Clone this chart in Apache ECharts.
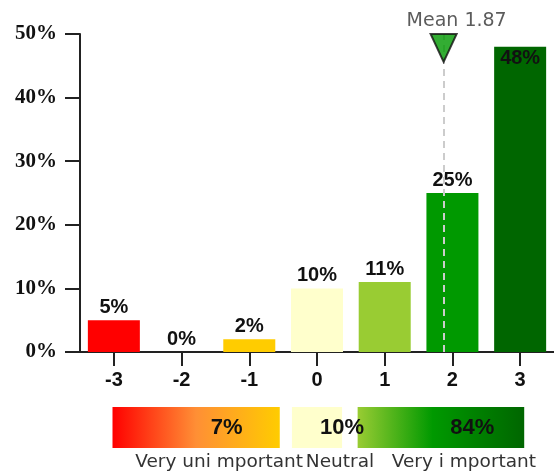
<!DOCTYPE html>
<html>
<head>
<meta charset="utf-8">
<script src="https://cdn.jsdelivr.net/npm/echarts@6/dist/echarts.min.js"></script>
<style>
html,body{margin:0;padding:0;background:#fff;}
#chart{width:554px;height:475px;}
</style>
</head>
<body>
<div id="chart"></div>
<script>
// ---- data ----
var categories = ['-3', '-2', '-1', '0', '1', '2', '3'];
var percentages = [5, 0, 2, 10, 11, 25, 48];
var yTicks = [0, 10, 20, 30, 40, 50];
var meanValue = 1.87;
var summaryGroups = [[-3, -1], [0, 0], [1, 3]];
var summaryValues = [7, 10, 84];
var summaryCaptions = ['Very uni mportant', 'Neutral', 'Very i mportant'];

// ---- styles ----
var barColors = ['#ff0000', '#ff0000', '#ffcc00', '#ffffcc', '#99cc33', '#009900', '#006600'];
var summaryFills = [
  [['#ff0000', 0], ['#ff8f35', 0.5], ['#ffcc00', 1]],
  [['#ffffcc', 0], ['#ffffcc', 1]],
  [['#99cc33', 0], ['#009900', 0.45], ['#006600', 1]]
];
var padL = [0.02, 0.37, 0.40];
var padR = [0.45, 0.37, 0.06];
var labelShiftPx = [-53, 0, -52];

var chart = echarts.init(document.getElementById('chart'), null, {renderer: 'canvas'});

var barData = percentages.map(function (v, i) {
  var item = {value: v, itemStyle: {color: barColors[i]}};
  if (i === percentages.length - 1) {
    item.label = {position: 'insideTop', distance: 2};
  }
  return item;
});

var summaryData = summaryGroups.map(function (g, i) {
  return [g[0] - padL[i], g[1] + padR[i], summaryValues[i], i];
});

var option = {
  animation: false,
  backgroundColor: '#ffffff',
  grid: [
    {left: 80, top: 34, width: 480, height: 318},
    {left: 80, top: 407, width: 480, height: 41}
  ],
  xAxis: [
    {
      type: 'category', gridIndex: 0, data: categories, boundaryGap: true,
      axisLine: {show: true, onZero: false, lineStyle: {color: '#222', width: 2}},
      axisTick: {show: true, alignWithLabel: true, length: 14, lineStyle: {color: '#222', width: 2}},
      axisLabel: {color: '#111', fontFamily: '"Liberation Sans", Arial, sans-serif', fontWeight: 'bold', fontSize: 20, margin: 18},
      splitLine: {show: false}
    },
    {type: 'value', gridIndex: 0, min: -3.5, max: 3.5, show: false},
    {type: 'value', gridIndex: 1, min: -3.5, max: 3.5, show: false}
  ],
  yAxis: [
    {
      type: 'value', gridIndex: 0, min: yTicks[0], max: yTicks[yTicks.length - 1], interval: 10,
      axisLine: {show: true, onZero: false, lineStyle: {color: '#222', width: 2}},
      axisTick: {show: true, length: 15, lineStyle: {color: '#222', width: 2}},
      axisLabel: {formatter: '{value}%', color: '#111', fontFamily: '"Liberation Serif", "Times New Roman", serif', fontWeight: 'bold', fontSize: 21, margin: 23},
      splitLine: {show: false}
    },
    {type: 'value', gridIndex: 1, min: 0, max: 1, show: false}
  ],
  series: [
    {
      type: 'bar', xAxisIndex: 0, yAxisIndex: 0, barWidth: 52, data: barData, z: 2,
      label: {show: true, position: 'top', distance: 3, formatter: '{c}%', color: '#111',
        fontFamily: '"Liberation Sans", Arial, sans-serif', fontWeight: 'bold', fontSize: 20}
    },
    {
      type: 'scatter', xAxisIndex: 1, yAxisIndex: 0, z: 5,
      data: [[meanValue, yTicks[yTicks.length - 1]]],
      symbol: 'path://M0,0 L26,0 L13,28 Z', symbolSize: [26, 28], symbolOffset: [0, 14],
      itemStyle: {color: '#009900', borderColor: '#111', borderWidth: 2},
      label: {show: true, position: 'top', distance: 2, offset: [13, 0],
        formatter: function () { return 'Mean ' + meanValue.toFixed(2); },
        color: '#333', fontFamily: '"DejaVu Sans", Verdana, sans-serif', fontSize: 19}
    },
    {
      type: 'scatter', xAxisIndex: 1, yAxisIndex: 0, z: 4, data: [], silent: true,
      markLine: {
        silent: true, symbol: 'none',
        lineStyle: {color: '#cccccc', type: [7, 5], width: 2},
        label: {show: false},
        data: [[{coord: [meanValue, 0]}, {coord: [meanValue, yTicks[yTicks.length - 1]]}]]
      }
    },
    {
      type: 'custom', xAxisIndex: 2, yAxisIndex: 1, data: summaryData,
      renderItem: function (params, api) {
        var i = api.value(3);
        var p0 = api.coord([api.value(0), 1]);
        var p1 = api.coord([api.value(1), 0]);
        var stops = summaryFills[i].map(function (s) { return {offset: s[1], color: s[0]}; });
        var w = p1[0] - p0[0], h = p1[1] - p0[1];
        return {
          type: 'group',
          children: [
            {type: 'rect', shape: {x: p0[0], y: p0[1], width: w, height: h},
              style: {fill: new echarts.graphic.LinearGradient(0, 0, 1, 0, stops)}},
            {type: 'text', z2: 10, style: {x: p1[0] + labelShiftPx[i], y: p0[1] + h / 2,
              text: api.value(2) + '%', align: 'center', verticalAlign: 'middle',
              fill: '#111', font: 'bold 22px "Liberation Sans", Arial, sans-serif'}},
            {type: 'text', z2: 10, style: {x: p0[0] + w / 2 + 23, y: p1[1] + 14,
              text: summaryCaptions[i], align: 'center', verticalAlign: 'middle',
              fill: '#333', font: '18.5px "DejaVu Sans", Verdana, sans-serif'}}
          ]
        };
      }
    }
  ]
};
chart.setOption(option);
</script>
</body>
</html>
